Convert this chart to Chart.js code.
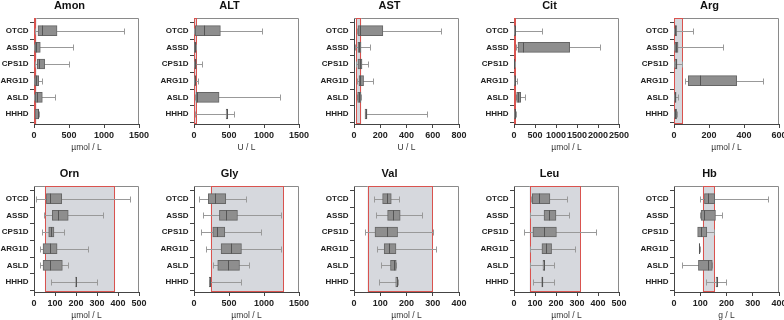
<!DOCTYPE html>
<html>
<head>
<meta charset="utf-8">
<script src="https://cdn.jsdelivr.net/npm/chart.js@4.4.0/dist/chart.umd.min.js"></script>
<style>
  body { margin: 0; background: #fff; width: 784px; height: 320px; position: relative; overflow: hidden; }
  .panel { position: absolute; }
</style>
</head>
<body>
<script>
// Groups (top to bottom)
const groups = ["OTCD", "ASSD", "CPS1D", "ARG1D", "ASLD", "HHHD"];

// Panel titles, units and x-axis ranges
const titles = ["Amon", "ALT", "AST", "Cit", "Arg", "Orn", "Gly", "Val", "Leu", "Hb"];
const units = ["µmol / L", "U / L", "U / L", "µmol / L", "µmol / L", "µmol / L", "µmol / L", "µmol / L", "µmol / L", "g / L"];
const axisMax = [1500, 1500, 800, 2500, 600, 500, 1500, 400, 500, 400];
const axisStep = [500, 500, 200, 500, 200, 100, 500, 100, 100, 100];

// Reference ranges (shaded band)
const refRanges = [[0, 35], [0, 40], [15, 55], [10, 45], [0, 50], [52, 386], [240, 1280], [52, 300], [75, 317], [110, 155]];

// Box stats per group: [min, q1, median, q3, max]
const amon = [[10, 57, 119, 329, 1286], [5, 14, 33, 90, 557], [20, 48, 71, 152, 500], [5, 10, 33, 67, 119], [5, 19, 48, 119, 295], [10, 14, 52, 67, 76]];
const alt = [[2, 19, 143, 377, 975], [0, 5, 15, 29, 35], [5, 10, 20, 33, 119], [5, 8, 12, 19, 62], [10, 29, 43, 358, 1223], [10, 459, 466, 482, 569]];
const ast = [[23, 30, 48, 220, 661], [10, 30, 40, 53, 119], [15, 30, 43, 61, 106], [25, 38, 48, 73, 142], [25, 28, 40, 53, 55], [81, 84, 91, 99, 559]];
const cit = [[5, 8, 15, 24, 659], [40, 95, 206, 1325, 2056], [5, 8, 10, 15, 20], [5, 10, 20, 32, 71], [40, 63, 95, 159, 254], [5, 10, 20, 40, 45]];
const arg = [[2, 5, 8, 15, 107], [2, 5, 11, 23, 279], [2, 5, 10, 17, 46], [63, 82, 147, 358, 510], [2, 4, 8, 12, 21], [2, 4, 8, 15, 18]];
const orn = [[8, 59, 75, 132, 456], [48, 87, 114, 163, 329], [40, 70, 83, 95, 143], [30, 43, 75, 110, 257], [30, 43, 75, 135, 162], [79, 198, 200, 202, 300]];
const gly = [[72, 205, 296, 454, 745], [134, 363, 459, 621, 1237], [105, 268, 330, 440, 951], [177, 387, 530, 678, 1247], [272, 339, 492, 650, 788], [215, 218, 225, 234, 669]];
const val = [[78, 109, 124, 142, 172], [85, 128, 148, 176, 259], [40, 80, 125, 166, 300], [87, 115, 133, 160, 311], [104, 139, 151, 161, 161], [94, 159, 162, 166, 166]];
const leu = [[83, 87, 121, 171, 254], [76, 143, 165, 200, 262], [49, 90, 141, 202, 392], [78, 133, 150, 179, 290], [75, 138, 142, 146, 190], [90, 132, 135, 138, 190]];
const hb = [[100, 116, 131, 155, 359], [100, 103, 116, 158, 183], [90, 90, 104, 125, 154], [96, 96, 97, 98, 98], [31, 93, 131, 146, 146], [122, 160, 164, 167, 199]];

const allStats = [amon, alt, ast, cit, arg, orn, gly, val, leu, hb];

Chart.defaults.font.family = '"Liberation Sans", Arial, sans-serif';
Chart.defaults.color = "#222";

// reference band, frame, whiskers and medians
const makeBoxPlugin = (stats, ref) => ({
	id: "boxes",
	beforeDatasetsDraw(chart) {
		const { ctx, chartArea: a, scales: { x, y } } = chart;
		ctx.save();
		// frame
		ctx.strokeStyle = "#8a8a8a";
		ctx.lineWidth = 1;
		ctx.beginPath();
		ctx.moveTo(a.left, a.top + 0.5);
		ctx.lineTo(a.right - 0.5, a.top + 0.5);
		ctx.lineTo(a.right - 0.5, a.bottom);
		ctx.stroke();

		// reference band
		const x0 = x.getPixelForValue(ref[0]);
		const x1 = x.getPixelForValue(ref[1]);
		ctx.fillStyle = "#d6d8dd";
		ctx.fillRect(x0, a.top, x1 - x0, a.bottom - a.top);
		ctx.strokeStyle = "#d9534f";
		ctx.strokeRect(Math.round(x0) + 0.5, a.top + 0.5, Math.max(Math.round(x1 - x0) - 1, 1), a.bottom - a.top - 1);

		// whiskers
		ctx.strokeStyle = "#999";
		stats.forEach((s, i) => {
			const yc = Math.round(y.getPixelForValue(i)) + 0.5;
			const xa = Math.round(x.getPixelForValue(s[0])) + 0.5;
			const xb = Math.round(x.getPixelForValue(s[4])) + 0.5;
			ctx.beginPath();
			ctx.moveTo(xa, yc);
			ctx.lineTo(xb, yc);
			ctx.moveTo(xa, yc - 3);
			ctx.lineTo(xa, yc + 3);
			ctx.moveTo(xb, yc - 3);
			ctx.lineTo(xb, yc + 3);
			ctx.stroke();
		});
		ctx.restore();
	},
	afterDatasetsDraw(chart) {
		const { ctx, scales: { x, y } } = chart;
		ctx.save();
		ctx.strokeStyle = "#555";
		ctx.lineWidth = 1;
		stats.forEach((s, i) => {
			const yc = y.getPixelForValue(i);
			const xm = Math.round(x.getPixelForValue(s[2])) + 0.5;
			ctx.beginPath();
			ctx.moveTo(xm, yc - 5);
			ctx.lineTo(xm, yc + 5);
			ctx.stroke();
		});
		ctx.restore();
	},
});

titles.forEach((title, k) => {
	const col = k % 5;
	const row = Math.floor(k / 5);
	const div = document.createElement("div");
	div.className = "panel";
	div.style.left = (0.3 + 159.8 * col) + "px";
	div.style.top = (168 * row) + "px";
	const cv = document.createElement("canvas");
	cv.width = 160;
	cv.height = 160;
	div.appendChild(cv);
	document.body.appendChild(div);

	const stats = allStats[k];

	new Chart(cv, {
		type: "bar",
		data: {
			datasets: [
				{
					data: stats.map((s, i) => ({ y: i, x: [s[1], s[3]] })),
					backgroundColor: "#8e8e8e",
					borderColor: "#666",
					borderWidth: 1,
					borderSkipped: false,
					barThickness: 10,
				},
			],
		},
		options: {
			indexAxis: "y",
			responsive: false,
			animation: false,
			layout: { padding: { left: 0, right: 21, top: 0, bottom: 0 } },
			plugins: {
				legend: { display: false },
				tooltip: { enabled: false },
				title: {
					display: true,
					text: title,
					color: "#111",
					font: { size: 11, weight: "bold", lineHeight: 1 },
					padding: { top: 0, bottom: 7 },
				},
			},
			scales: {
				x: {
					min: 0,
					max: axisMax[k],
					ticks: {
						stepSize: axisStep[k],
						autoSkip: false,
						maxRotation: 0,
						padding: 2,
						color: "#222",
						font: { size: 9, weight: "bold" },
						callback: (v) => v,
					},
					grid: { drawOnChartArea: false, drawTicks: true, tickLength: 4, color: "#444" },
					border: { display: true, color: "#444" },
					title: {
						display: true,
						text: units[k],
						color: "#333",
						font: { size: 8.5 },
						padding: { top: 0, bottom: 7 },
					},
					afterFit(scale) {
						scale.height = 36;
					},
				},
				y: {
					type: "linear",
					reverse: true,
					offset: false,
					min: -0.76,
					max: 5.6,
					afterBuildTicks(scale) {
						scale.ticks = groups.map((g, i) => ({ value: i }));
					},
					ticks: {
						padding: 1.5,
						color: "#222",
						font: { size: 8, weight: "bold" },
						callback: (v) => groups[v],
					},
					grid: { drawOnChartArea: false, drawTicks: true, tickLength: 4, color: "#444" },
					border: { display: true, color: "#444" },
					afterFit(scale) {
						scale.width = 34;
					},
				},
			},
		},
		plugins: [makeBoxPlugin(stats, refRanges[k])],
	});
});
</script>
</body>
</html>
